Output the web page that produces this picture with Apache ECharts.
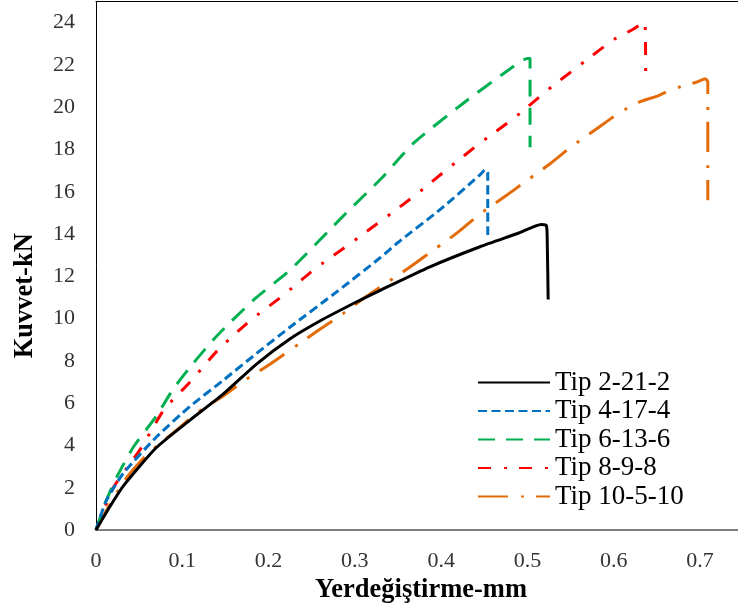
<!DOCTYPE html>
<html>
<head>
<meta charset="utf-8">
<script src="https://cdn.jsdelivr.net/npm/echarts@6/dist/echarts.min.js"></script>
<style>html,body{margin:0;padding:0;background:#fff}#c{width:738px;height:612px}</style>
</head>
<body>
<div id="c"></div>
<script>
const seriesNames = ['Tip 2-21-2', 'Tip 4-17-4', 'Tip 6-13-6', 'Tip 8-9-8', 'Tip 10-5-10'];

const tip2 = [[0,0],[0.016,1.1],[0.032,2.1],[0.07,3.9],[0.109,5.2],[0.148,6.45],[0.186,7.85],[0.225,9.05],[0.26,9.9],[0.3,10.75],[0.33,11.35],[0.387,12.45],[0.445,13.4],[0.49,14.05],[0.516,14.45],[0.522,14.4],[0.523,13.5],[0.524,10.9]];
const tip4 = [[0,0],[0.012,1.4],[0.032,2.7],[0.07,4.4],[0.109,5.85],[0.148,7.1],[0.186,8.35],[0.225,9.6],[0.28,11.3],[0.33,12.9],[0.35,13.6],[0.4,15.2],[0.445,16.8],[0.451,17.05],[0.454,16.9],[0.454,13.9]];
const tip6 = [[0,0],[0.012,1.4],[0.024,2.5],[0.043,3.9],[0.07,5.4],[0.09,6.7],[0.113,7.9],[0.136,9.0],[0.155,9.8],[0.186,11.0],[0.225,12.3],[0.29,15.0],[0.33,16.6],[0.368,18.3],[0.426,20.2],[0.476,21.7],[0.5,22.3],[0.503,22.3],[0.503,18.1]];
const tip8 = [[0,0],[0.02,2.0],[0.051,3.8],[0.079,5.7],[0.109,7.0],[0.141,8.5],[0.177,9.85],[0.217,11.1],[0.252,12.3],[0.293,13.5],[0.333,14.7],[0.372,15.9],[0.411,17.2],[0.445,18.3],[0.485,19.5],[0.523,20.8],[0.561,22.0],[0.6,23.2],[0.623,23.7],[0.636,24.05],[0.637,21.4]];
const tip10 = [[0,0],[0.016,1.2],[0.036,2.5],[0.06,3.6],[0.094,4.75],[0.119,5.6],[0.146,6.3],[0.173,7.1],[0.202,7.85],[0.256,9.4],[0.285,10.2],[0.31,10.95],[0.339,11.75],[0.366,12.5],[0.393,13.3],[0.42,14.1],[0.445,14.95],[0.473,15.75],[0.5,16.55],[0.527,17.35],[0.553,18.2],[0.581,19.0],[0.607,19.75],[0.63,20.25],[0.652,20.55],[0.668,20.85],[0.697,21.2],[0.706,21.35],[0.709,21.2],[0.709,15.6]];

const xTicks = [0, 0.1, 0.2, 0.3, 0.4, 0.5, 0.6, 0.7];
const yTicks = [0, 2, 4, 6, 8, 10, 12, 14, 16, 18, 20, 22, 24];

const colors = ['#000000', '#0070C0', '#00B050', '#FF0000', '#E36C09'];
const dashes = ['solid', [9, 4.5], [17, 11], [13, 13, 3, 12], [30, 13, 3, 12]];
const datas = [tip2, tip4, tip6, tip8, tip10];

const FONT = 'Liberation Serif';
const chart = echarts.init(document.getElementById('c'), null, {renderer: 'canvas'});
chart.setOption({
  animation: false,
  backgroundColor: '#ffffff',
  grid: {left: 96, top: 1.5, right: 0, bottom: 82, show: false, containLabel: false},
  legend: {
    orient: 'vertical', left: 472, top: 364,
    itemWidth: 72, itemHeight: 20, itemGap: 1.5,
    data: seriesNames,
    itemStyle: {opacity: 0, color: 'transparent', borderWidth: 0},
    textStyle: {fontFamily: FONT, fontSize: 27, color: '#000'}
  },
  xAxis: [{
    type: 'value', min: 0, max: 0.744, interval: 0.1,
    name: 'Yerdeğiştirme-mm', nameLocation: 'middle', nameGap: 47,
    nameTextStyle: {fontFamily: FONT, fontSize: 26.5, fontWeight: 'bold', color: '#000', padding: [0, 0, 0, 8]},
    axisLine: {show: true, lineStyle: {color: '#7f7f7f', width: 2}},
    axisTick: {show: false},
    splitLine: {show: false},
    axisLabel: {fontFamily: FONT, fontSize: 22, color: '#333', margin: 20, showMaxLabel: false,
      formatter: v => { const t = xTicks.find(k => Math.abs(k - v) < 1e-6); return t === undefined ? '' : String(t); }}
  }, {
    type: 'value', position: 'top', min: 0, max: 0.744, interval: 0.1,
    axisLine: {show: true, onZero: false, lineStyle: {color: '#000', width: 1}},
    axisTick: {show: false}, axisLabel: {show: false}, splitLine: {show: false}
  }],
  yAxis: {
    type: 'value', min: 0, max: 25, interval: 2,
    name: 'Kuvvet-kN', nameLocation: 'middle', nameGap: 57,
    nameTextStyle: {fontFamily: FONT, fontSize: 26.5, fontWeight: 'bold', color: '#000', padding: [0, 60, 0, 0]},
    axisLine: {show: true, lineStyle: {color: '#000', width: 1}},
    axisTick: {show: false},
    splitLine: {show: false},
    axisLabel: {fontFamily: FONT, fontSize: 22, color: '#333', margin: 21, showMaxLabel: false,
      formatter: v => yTicks.includes(v) ? String(v) : ''}
  },
  series: seriesNames.map((n, i) => ({
    name: n, type: 'line', data: datas[i], showSymbol: false, symbol: 'none',
    smooth: 0.2,
    lineStyle: {color: colors[i], width: 3, type: dashes[i], cap: 'butt', join: 'round'},
    itemStyle: {color: colors[i]},
    z: 10 - i
  }))
});
</script>
</body>
</html>
